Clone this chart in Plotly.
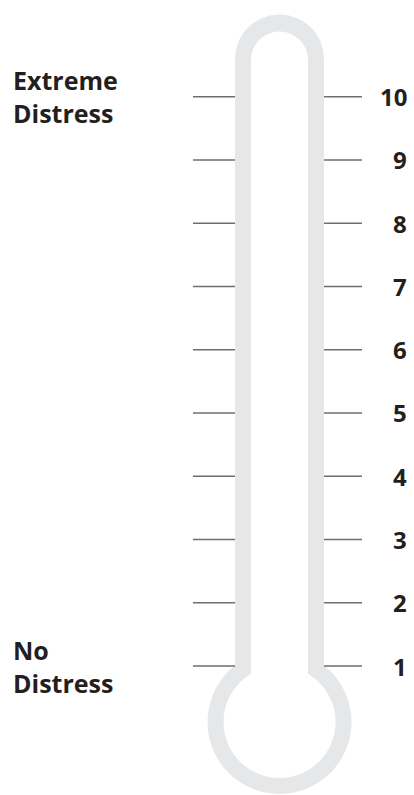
import plotly.graph_objects as go

# ---- data ----
levels = [1, 2, 3, 4, 5, 6, 7, 8, 9, 10]
level_labels = ["1", "2", "3", "4", "5", "6", "7", "8", "9", "10"]
end_labels = ["No<br>Distress", "Extreme<br>Distress"]
end_levels = [1, 10]

# ---- geometry helpers (pixel layout -> level units) ----
W, H = 414, 795
PX_LEVEL1 = 666.0
PX_PER_LEVEL = (666.0 - 96.7) / 9.0


def L(py):
    return 1 + (PX_LEVEL1 - py) / PX_PER_LEVEL


GRAY = "#e6e7e8"
TICK = "#6d6e71"
TEXT = "#231f20"
CX = 279.5

fig = go.Figure()

# tick lines on both sides of the tube
xs, ys = [], []
for lv in levels:
    xs += [193, 235, None, 324, 362, None]
    ys += [lv, lv, None, lv, lv, None]
fig.add_trace(go.Scatter(x=xs, y=ys, mode="lines",
                         line=dict(color=TICK, width=1.4),
                         hoverinfo="skip", showlegend=False))

shapes = []
# outer gray silhouette
shapes.append(dict(type="circle", xref="x", yref="y", layer="below",
                   x0=CX - 44.5, x1=CX + 44.5, y0=L(59 + 44.5), y1=L(59 - 44.5),
                   fillcolor=GRAY, line=dict(width=0)))
shapes.append(dict(type="rect", xref="x", yref="y", layer="below",
                   x0=235, x1=324, y0=L(722), y1=L(59),
                   fillcolor=GRAY, line=dict(width=0)))
shapes.append(dict(type="circle", xref="x", yref="y", layer="below",
                   x0=CX - 72, x1=CX + 72, y0=L(722 + 72), y1=L(722 - 72),
                   fillcolor=GRAY, line=dict(width=0)))
# inner white
shapes.append(dict(type="circle", xref="x", yref="y", layer="below",
                   x0=CX - 28.5, x1=CX + 28.5, y0=L(60 + 28.5), y1=L(60 - 28.5),
                   fillcolor="white", line=dict(width=0)))
shapes.append(dict(type="rect", xref="x", yref="y", layer="below",
                   x0=251, x1=308, y0=L(722), y1=L(60),
                   fillcolor="white", line=dict(width=0)))
shapes.append(dict(type="circle", xref="x", yref="y", layer="below",
                   x0=CX - 56, x1=CX + 56, y0=L(722 + 56), y1=L(722 - 56),
                   fillcolor="white", line=dict(width=0)))

annotations = []
for lv, lab in zip(levels, level_labels):
    annotations.append(dict(x=409, y=lv, xref="x", yref="y", text=lab,
                            showarrow=False, xanchor="right", yanchor="middle",
                            font=dict(family="Open Sans", size=24, color=TEXT, weight=700)))
for lv, lab in zip(end_levels, end_labels):
    annotations.append(dict(x=11, y=lv, xref="x", yref="y", text=lab,
                            showarrow=False, xanchor="left", yanchor="middle", align="left",
                            font=dict(family="Open Sans", size=25, color=TEXT, weight=700)))

fig.update_layout(
    width=W, height=H,
    margin=dict(l=0, r=0, t=0, b=0),
    paper_bgcolor="white", plot_bgcolor="white",
    shapes=shapes, annotations=annotations,
    xaxis=dict(range=[0, W], visible=False, fixedrange=True),
    yaxis=dict(range=[L(H), L(0)], visible=False, fixedrange=True),
    showlegend=False,
)

fig.write_html("out.html", config={"displayModeBar": False},
               post_script="document.body.style.margin='0';document.body.style.overflow='hidden';")
